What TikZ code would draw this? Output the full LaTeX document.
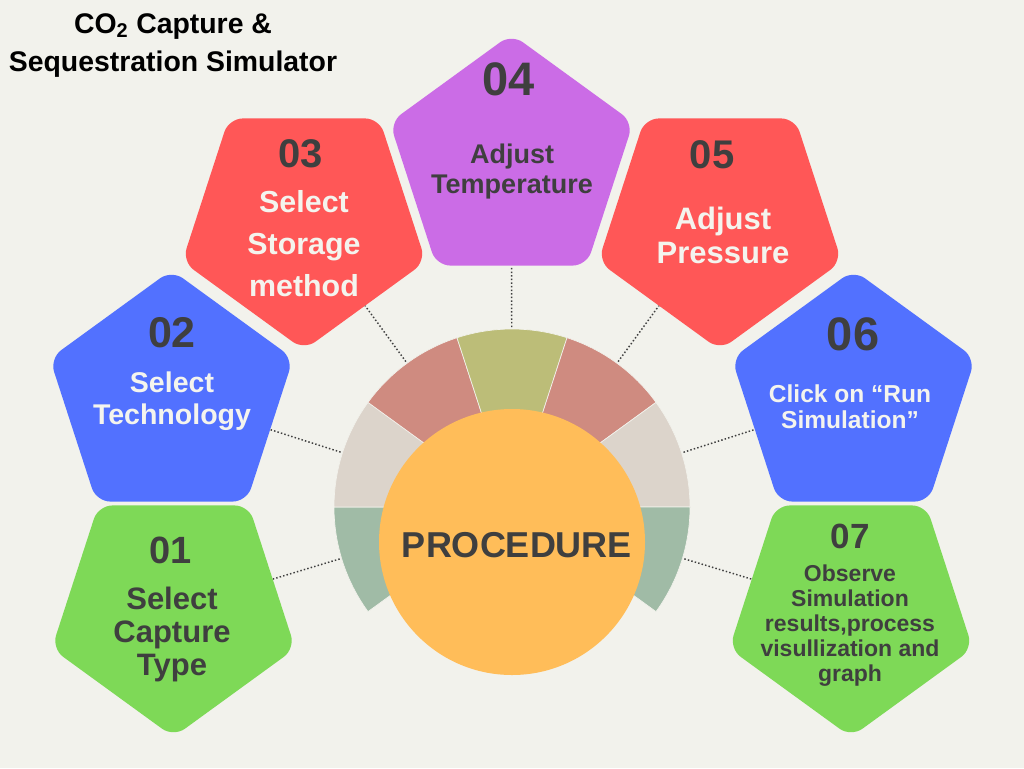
\documentclass[tikz,border=0pt]{standalone}
\usepackage{fontspec}
\setmainfont{Liberation Sans}
\usetikzlibrary{shapes.geometric}
\definecolor{bg}{HTML}{F2F2EC}
\definecolor{pgreen}{HTML}{7ED957}
\definecolor{pblue}{HTML}{5271FF}
\definecolor{pred}{HTML}{FF5757}
\definecolor{ppurple}{HTML}{CB6CE6}
\definecolor{porange}{HTML}{FFBD59}
\definecolor{rgreen}{HTML}{A0BBA6}
\definecolor{rgray}{HTML}{DCD4CB}
\definecolor{rred}{HTML}{CF8B80}
\definecolor{rolive}{HTML}{BCBD78}
\definecolor{dark}{HTML}{3F3F3F}
\definecolor{light}{HTML}{F4F4EE}
\newcommand{\mlines}[1]{\begin{tabular}[t]{@{}c@{}}#1\end{tabular}}
\newcommand{\fsz}[2]{\fontsize{#1}{#2}\selectfont\bfseries}
\begin{document}
\begin{tikzpicture}[x=0.75pt,y=-0.75pt,
  pent/.style={regular polygon, regular polygon sides=5, minimum size=192pt,
    inner sep=0pt, rounded corners=10.5pt, draw=none},
  pdown/.style={pent, shape border rotate=180},
  conn/.style={draw=dark, line width=1.1pt, dash pattern=on 1.1pt off 1.6pt},
  seg/.style={draw=bg, line width=0.5pt},
  txt/.style={anchor=base, inner sep=0pt, text=dark},
  wtxt/.style={anchor=base, inner sep=0pt, text=light}]
\useasboundingbox (0,0) rectangle (1024,768);
\fill[bg] (0,0) rectangle (1024,768);
\coordinate (c) at (512,507);
% pentagons
\node[pdown, fill=pgreen] (p1) at (173.5,609) {};
\node[pent, fill=pblue] (p2) at (171.5,398) {};
\node[pdown, fill=pred] (p3) at (304,222) {};
\node[pent, fill=ppurple] (p4) at (511.5,162) {};
\node[pdown, fill=pred] (p5) at (720,222) {};
\node[pent, fill=pblue] (p6) at (853.5,398) {};
\node[pdown, fill=pgreen] (p7) at (851,609) {};
% connectors
\foreach \p in {p1,p2,p3,p4,p5,p6,p7} \draw[conn] (c) -- (\p);
% ring segments
\fill[rgreen, seg] (c) -- ++(-216:178) arc[start angle=-216, end angle=-180, radius=178] -- cycle;
\fill[rgray, seg] (c) -- ++(-180:178) arc[start angle=-180, end angle=-144, radius=178] -- cycle;
\fill[rred, seg] (c) -- ++(-144:178) arc[start angle=-144, end angle=-108, radius=178] -- cycle;
\fill[rolive, seg] (c) -- ++(-108:178) arc[start angle=-108, end angle=-72, radius=178] -- cycle;
\fill[rred, seg] (c) -- ++(-72:178) arc[start angle=-72, end angle=-36, radius=178] -- cycle;
\fill[rgray, seg] (c) -- ++(-36:178) arc[start angle=-36, end angle=0, radius=178] -- cycle;
\fill[rgreen, seg] (c) -- ++(0:178) arc[start angle=0, end angle=36, radius=178] -- cycle;
% central circle
\node[circle, fill=porange, minimum size=199.5pt, inner sep=0pt] (core) at (512,542) {};
\node[txt, font=\fsz{27}{30}] (proc) at (517,557) {PROCEDURE};
% title
\node[anchor=base, inner sep=0pt, text=black, font=\fsz{21.3}{28.5}] (title) at (173,33)
  {\mlines{CO\textsubscript{2} Capture \&\\Sequestration Simulator}};
% numbers
\node[txt, font=\fsz{28.5}{30}] (n1) at (171,563) {01};
\node[txt, font=\fsz{32.25}{34}] (n2) at (172,347) {02};
\node[txt, font=\fsz{30}{32}] (n3) at (301,167) {03};
\node[txt, font=\fsz{35.25}{37}] (n4) at (509,95) {04};
\node[txt, font=\fsz{30}{32}] (n5) at (712,168) {05};
\node[txt, font=\fsz{35.25}{37}] (n6) at (853,350) {06};
\node[txt, font=\fsz{26.25}{28}] (n7) at (850,548) {07};
% labels
\node[txt, font=\fsz{23.25}{24.75}] (l1) at (172,609) {\mlines{Select\\Capture\\Type}};
\node[wtxt, font=\fsz{21.4}{24}] (l2) at (172,392) {\mlines{Select\\Technology}};
\node[wtxt, font=\fsz{22.8}{31.5}] (l3) at (304,212) {\mlines{Select\\Storage\\method}};
\node[txt, font=\fsz{20.25}{22.5}] (l4) at (512,163) {\mlines{Adjust\\Temperature}};
\node[wtxt, font=\fsz{23.25}{25.5}] (l5) at (723,229) {\mlines{Adjust\\Pressure}};
\node[wtxt, font=\fsz{18.4}{19.5}] (l6) at (850,402) {\mlines{Click on “Run\\Simulation”}};
\node[txt, font=\fsz{17.25}{18.75}] (l7) at (850,581) {\mlines{Observe\\Simulation\\results,process\\visullization and\\graph}};
\end{tikzpicture}
\end{document}
